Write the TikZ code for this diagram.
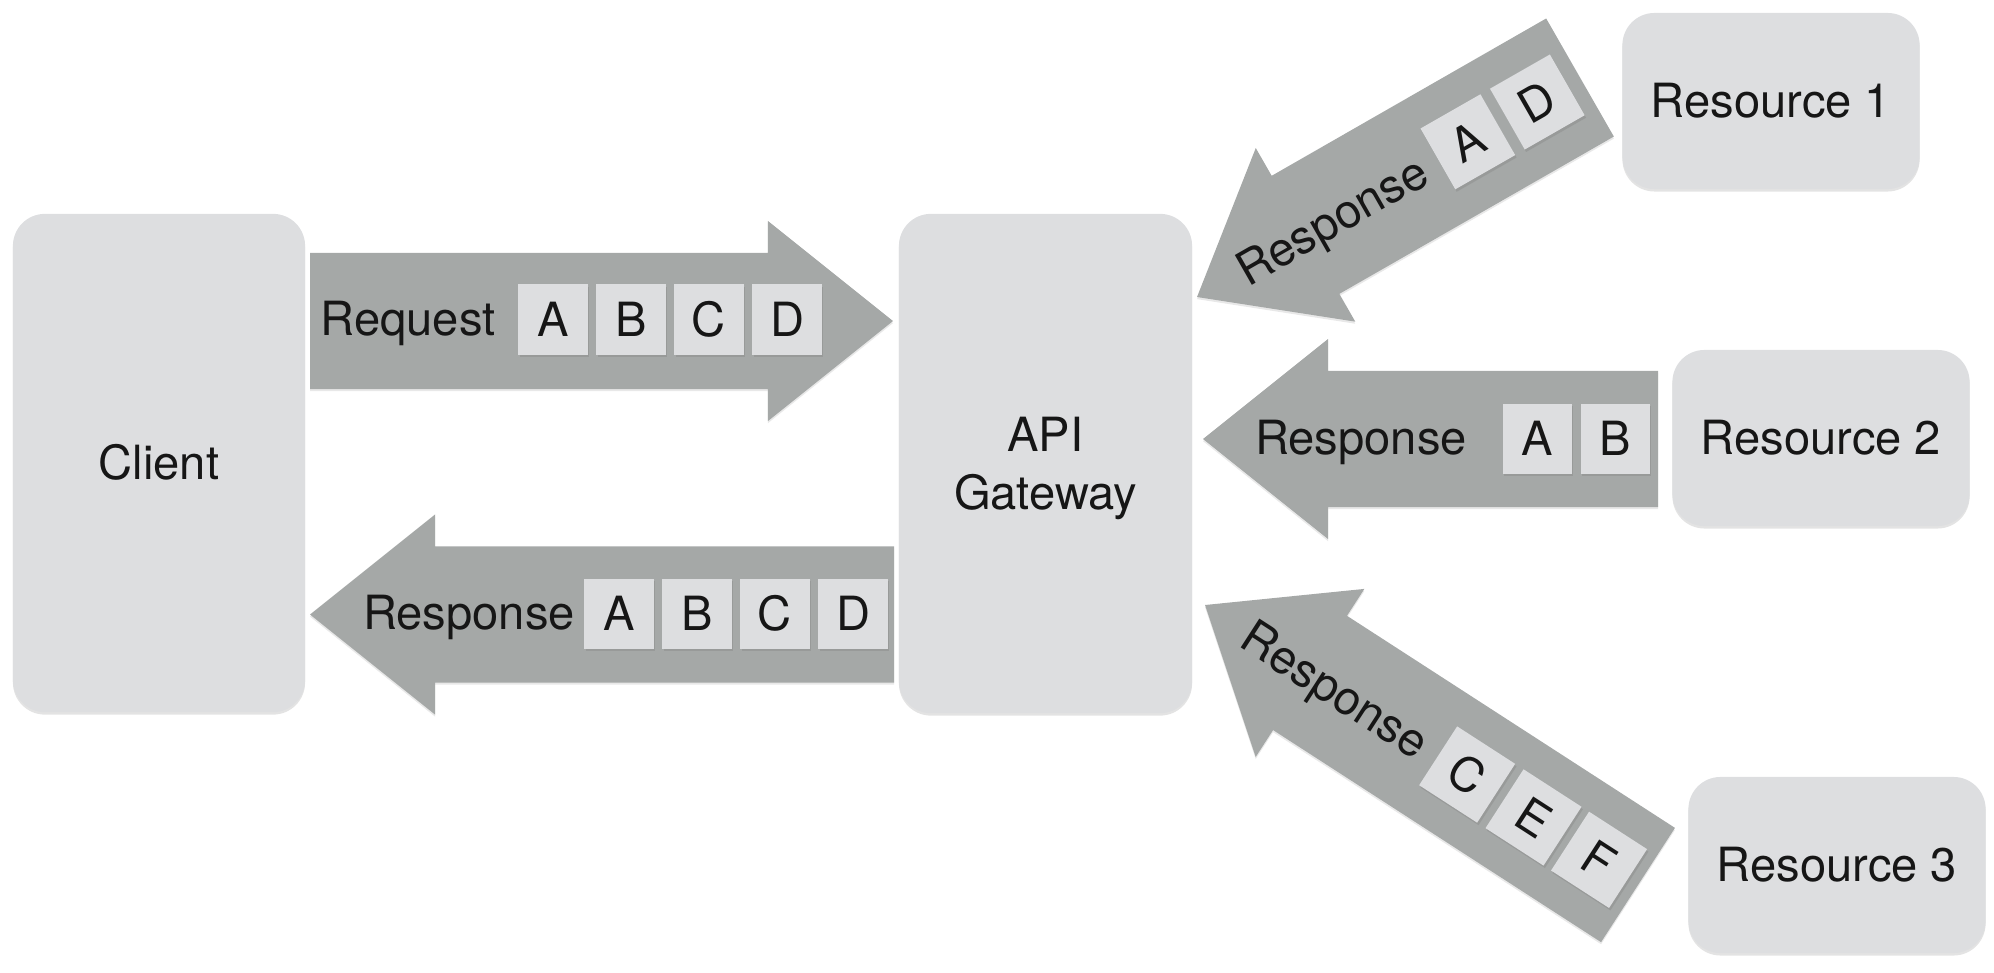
\documentclass[tikz,border=0pt]{standalone}
\usepackage{fontspec}
\setmainfont{TeX Gyre Heros}
\usetikzlibrary{calc,shadows}
\definecolor{arrowgray}{RGB}{165,168,167}
\definecolor{boxgray}{RGB}{221,222,224}
\definecolor{tilegray}{RGB}{221,222,224}
\definecolor{inkc}{RGB}{22,22,22}
\newcommand{\blockarr}[2]{%
  \path ($(#2)!1.25cm!(#1)$) coordinate (hb);
  \fill[blockarrow] ($(#1)!0.68cm!90:(#2)$) -- ($(hb)!0.68cm!-90:(#1)$) -- ($(hb)!1.0cm!-90:(#1)$) -- (#2)
    -- ($(hb)!1.0cm!90:(#1)$) -- ($(hb)!0.68cm!90:(#1)$) -- ($(#1)!0.68cm!-90:(#2)$) -- cycle;
}
\begin{document}
\begin{tikzpicture}[x=0.01cm, y=-0.01cm,
  every node/.style={font=\fontsize{13.4pt}{16.5pt}\selectfont, text=inkc},
  bigbox/.style={fill=boxgray, rounded corners=0.32cm, inner sep=0pt, text height=9.6pt, text depth=0pt,
    drop shadow={shadow xshift=0pt, shadow yshift=-0.7pt, opacity=0.22}},
  resbox/.style={bigbox, minimum width=2.97cm, minimum height=1.76cm},
  tile/.style={fill=tilegray, minimum width=0.69cm, minimum height=0.70cm, inner sep=0pt,
    text height=9.6pt, text depth=0pt,
    drop shadow={shadow xshift=0.4pt, shadow yshift=-0.7pt, opacity=0.35}},
  lbl/.style={inner sep=0pt, text height=9.6pt, text depth=0pt},
  blockarrow/.style={fill=arrowgray, drop shadow={shadow xshift=0pt, shadow yshift=-0.6pt, opacity=0.18}}
]
\useasboundingbox (0,0) rectangle (1994,972);

% main boxes
\node[bigbox, minimum width=2.92cm, minimum height=4.98cm] (client) at (159,463) {Client};
\node[bigbox, minimum width=2.93cm, minimum height=4.99cm, align=center, text height=26.1pt] (gw) at (1045.5,463.5) {API\\Gateway};
\node[resbox] (r1) at (1771,101) {Resource 1};
\node[resbox] (r2) at (1821,438) {Resource 2};
\node[resbox] (r3) at (1837,865) {Resource 3};

% arrow end points
\coordinate (rqS) at (310,321);
\coordinate (rqE) at (893,321);
\coordinate (rbS) at (894,614.5);
\coordinate (rbE) at (310,614.5);
\coordinate (rmS) at (1658,439);
\coordinate (rmE) at (1203,439);
\coordinate (raS) at (1580,77.5);
\coordinate (raE) at (1197,297);
\coordinate (rcS) at (1638,885);
\coordinate (rcE) at (1205,605);

\blockarr{rqS}{rqE}
\blockarr{rbS}{rbE}
\blockarr{rmS}{rmE}
\blockarr{raS}{raE}
\blockarr{rcS}{rcE}

% request
\node[lbl] (rqL) at (408,319) {Request};
\node[tile] (rqA) at (553,319.5) {A};
\node[tile] (rqB) at (631,319.5) {B};
\node[tile] (rqC) at (709,319.5) {C};
\node[tile] (rqD) at (787,319.5) {D};

% response to client
\node[lbl] (rbL) at (469,613) {Response};
\node[tile] (rbA) at (619,614) {A};
\node[tile] (rbB) at (697,614) {B};
\node[tile] (rbC) at (775,614) {C};
\node[tile] (rbD) at (853,614) {D};

% response from resource 2
\node[lbl] (rmL) at (1361,438) {Response};
\node[tile] (rmA) at (1537,439) {A};
\node[tile] (rmB) at (1615,439) {B};

% response from resource 1
\node[lbl, rotate=29.76] (raL) at ($(raE)!1.55cm!(raS)$) {Response};
\node[tile, rotate=29.76] (raA) at ($(raE)!3.12cm!(raS)$) {A};
\node[tile, rotate=29.76] (raD) at ($(raE)!3.92cm!(raS)$) {D};

% response from resource 3
\node[lbl, rotate=-32.87] (rcL) at ($(rcE)!1.55cm!(rcS)$) {Response};
\node[tile, rotate=-32.87] (rcC) at ($(rcE)!3.12cm!(rcS)$) {C};
\node[tile, rotate=-32.87] (rcE2) at ($(rcE)!3.91cm!(rcS)$) {E};
\node[tile, rotate=-32.87] (rcF) at ($(rcE)!4.69cm!(rcS)$) {F};
\end{tikzpicture}
\end{document}
